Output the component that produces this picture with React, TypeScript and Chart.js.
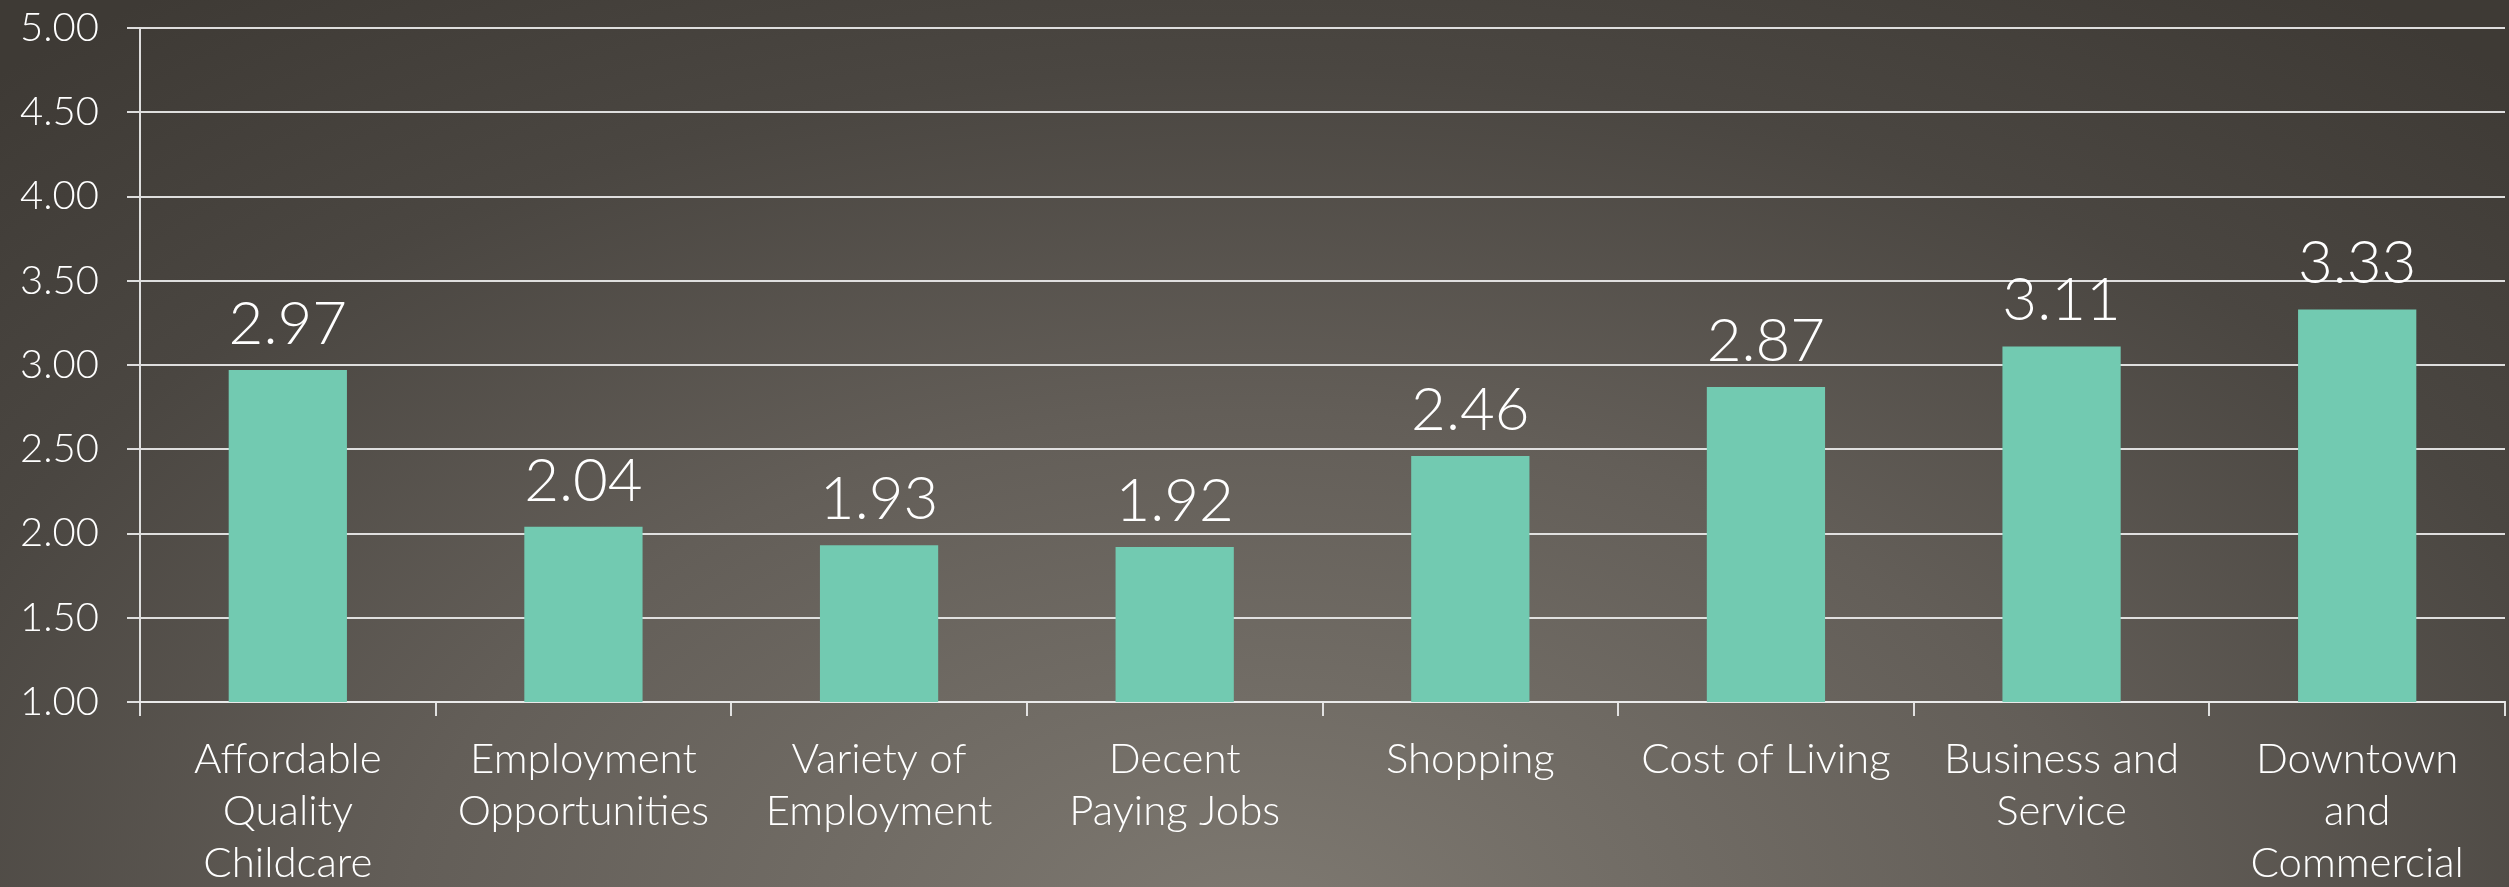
import React, { useEffect, useRef } from "react";
import { Chart, registerables } from "chart.js";

Chart.register(...registerables);

const categories: string[][] = [
  ["Affordable", "Quality", "Childcare"],
  ["Employment", "Opportunities"],
  ["Variety of", "Employment"],
  ["Decent", "Paying Jobs"],
  ["Shopping"],
  ["Cost of Living"],
  ["Business and", "Service"],
  ["Downtown", "and", "Commercial"],
];

const values: number[] = [2.97, 2.04, 1.93, 1.92, 2.46, 2.87, 3.11, 3.33];

const yMin = 1;
const yMax = 5;
const yStep = 0.5;

const FONT = "Lato, 'Open Sans', sans-serif";
const GRID = "rgba(236,236,236,0.92)";

const valueLabels = {
  id: "valueLabels",
  afterDatasetsDraw(chart: any) {
    const ctx = chart.ctx;
    const meta = chart.getDatasetMeta(0);
    ctx.save();
    ctx.fillStyle = "#ffffff";
    ctx.font = `300 60px ${FONT}`;
    ctx.textAlign = "center";
    ctx.textBaseline = "alphabetic";
    meta.data.forEach((bar: any, i: number) => {
      ctx.fillText(values[i].toFixed(2), bar.x, bar.y - 26);
    });
    ctx.restore();
  },
};

export default function App() {
  const ref = useRef<HTMLCanvasElement | null>(null);
  useEffect(() => {
    document.body.style.margin = "0";
    const chart = new Chart(ref.current as HTMLCanvasElement, {
      type: "bar",
      data: {
        labels: categories,
        datasets: [
          {
            data: values,
            backgroundColor: "#72cab1",
            borderWidth: 0,
            barPercentage: 0.4,
            categoryPercentage: 1,
          },
        ],
      },
      options: {
        animation: false,
        responsive: true,
        maintainAspectRatio: false,
        layout: { padding: { top: 0, right: 4, left: 0, bottom: 0 } },
        plugins: { legend: { display: false }, tooltip: { enabled: false } },
        scales: {
          x: {
            offset: true,
            grid: {
              display: true,
              drawOnChartArea: false,
              drawTicks: true,
              tickLength: 14,
              color: GRID,
              lineWidth: 2,
              offset: true,
            },
            border: { display: true, color: GRID, width: 2 },
            ticks: {
              color: "#ffffff",
              font: { family: FONT, size: 42, weight: "300" as any, lineHeight: 1.24 },
              padding: 17,
              maxRotation: 0,
              minRotation: 0,
              autoSkip: false,
            },
            afterFit(scale: any) {
              scale.height = 185;
            },
          },
          y: {
            min: yMin,
            max: yMax,
            grid: {
              color: GRID,
              lineWidth: 2,
              tickLength: 13,
            },
            border: { display: true, color: GRID, width: 2 },
            ticks: {
              stepSize: yStep,
              color: "#ffffff",
              font: { family: FONT, size: 40, weight: "300" as any },
              padding: 28,
              callback: (v: any) => Number(v).toFixed(2),
            },
            afterFit(scale: any) {
              scale.width = 140;
              scale.paddingTop = 28;
              scale.paddingBottom = 0;
            },
          },
        },
      },
      plugins: [valueLabels],
    });
    return () => chart.destroy();
  }, []);

  return (
    <div
      style={{
        position: "fixed",
        left: 0,
        top: 0,
        width: 2509,
        height: 887,
        background:
          "radial-gradient(ellipse 75% 130% at 50% 105%, #7e7971 0%, #635e58 45%, #4a4641 75%, #3e3a35 100%)",
      }}
    >
      <canvas ref={ref} />
    </div>
  );
}
